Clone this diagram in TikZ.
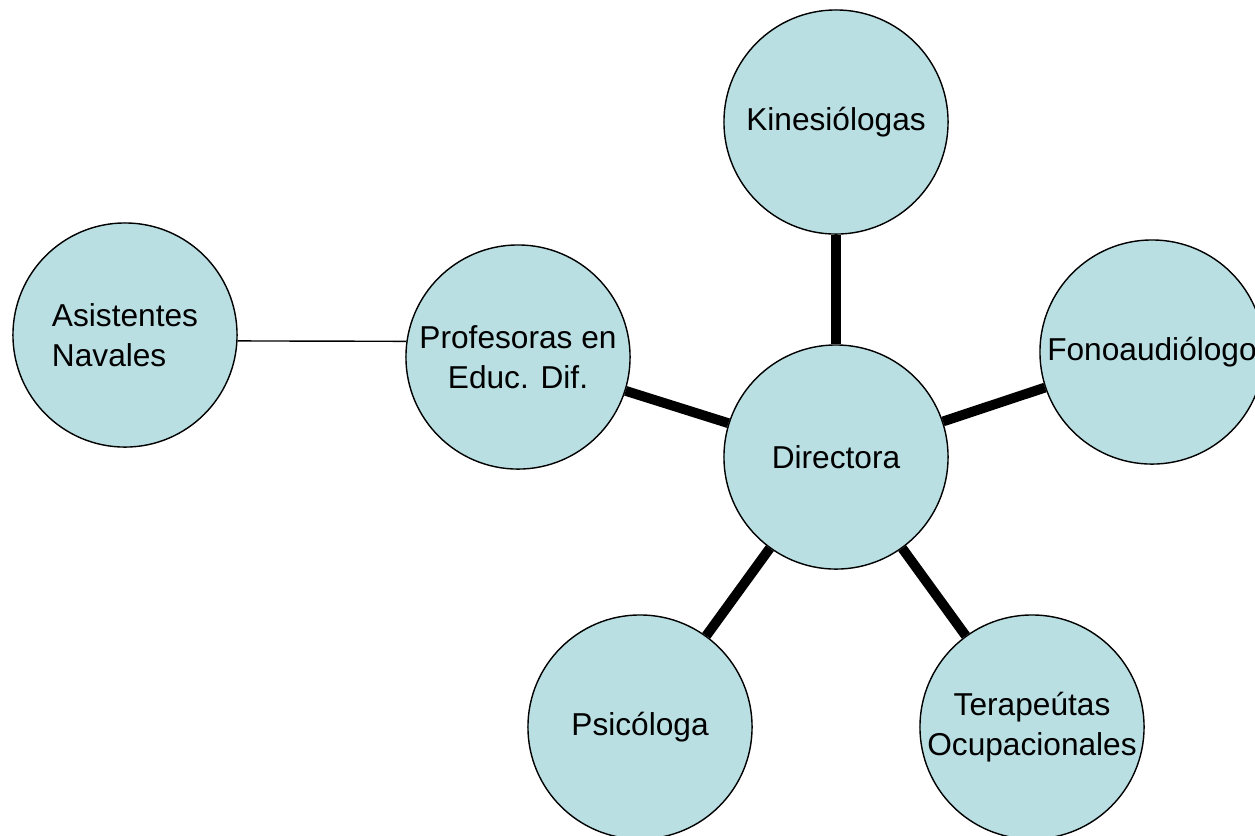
\documentclass[tikz,border=0pt]{standalone}
\usepackage{fontspec}
\setmainfont{Liberation Sans}
\definecolor{burbuja}{RGB}{185,223,227}

\begin{document}
\begin{tikzpicture}[x=0.01cm, y=-0.01cm, line join = round,
    bubble/.style={circle, draw=black, line width=0.4pt, fill=burbuja,
        minimum size=2.24cm, inner sep=0pt, font=\fontsize{9pt}{11.4pt}\selectfont},
    grueso/.style={line width=2.8pt},
    fino/.style={line width=0.4pt}]
    \useasboundingbox (0,0) rectangle (1255,835);

    \node[bubble] (dir) at (836,457) {Directora};
    \node[bubble] (kine) at (836,122) {Kinesiólogas};
    \node[bubble] (fono) at (1152,352) {Fonoaudiólogo};
    \node[bubble, align=center] (prof) at (518,357) {Profesoras en\\Educ. Dif.};
    \node[bubble, align=left] (asis) at (125,335) {Asistentes\\Navales};
    \node[bubble] (psico) at (640,727) {Psicóloga};
    \node[bubble, align=center] (tera) at (1032,727) {Terapeútas\\Ocupacionales};

    %\draw[red] (dir) -- (fono);
    \foreach \i in {kine,fono,prof,psico,tera}
        \draw[grueso] (dir) -- (\i);

    \draw[fino] (asis.-3.6) -- (prof.172.3);
\end{tikzpicture}
\end{document}
